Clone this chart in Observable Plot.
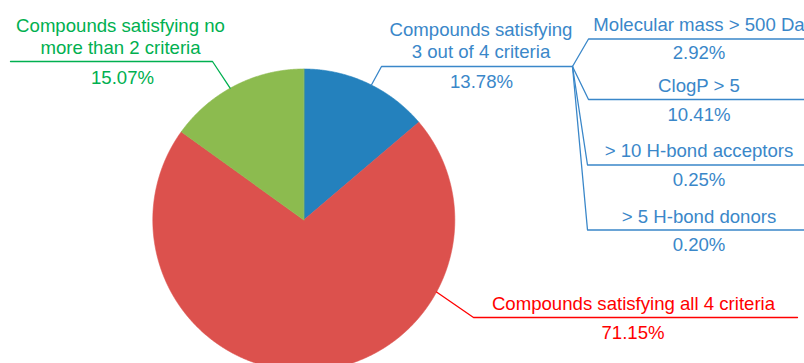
<!DOCTYPE html>
<html><head><meta charset="utf-8">
<script src="https://cdn.jsdelivr.net/npm/d3@7"></script>
<script src="https://cdn.jsdelivr.net/npm/@observablehq/plot@0.6"></script>
<style>html,body{margin:0;padding:0;background:#fff;overflow:hidden;}</style>
</head><body><div id="chart"></div>
<script>
// ---- data ----
const categories = ["3 of 4", "all 4", "no more than 2"];
const categoryLines = [
  ["Compounds satisfying", "3 out of 4 criteria"],
  ["Compounds satisfying all 4 criteria"],
  ["Compounds satisfying no", "more than 2 criteria"]
];
const shares = [13.78, 71.15, 15.07];
const subCategories = ["Molecular mass > 500 Da", "ClogP > 5", "> 10 H-bond acceptors", "> 5 H-bond donors"];
const subShares = [2.92, 10.41, 0.25, 0.20];
const sliceColors = ["#2481bd", "#dc514d", "#8cbb4f"];
const labelColors = ["#3a87c9", "#ff0000", "#00b050"];

// ---- layout ----
const W = 804, H = 363;
const cx = 303.3, cy = 219.5, R = 151;
const FS = 18.6, LH = 22;
const fmt = v => d3.format(".2f")(v) + "%";

// pie polygons
const pie = d3.pie().sort(null)(shares);
const slices = [];
pie.forEach((p, i) => {
  const n = Math.max(2, Math.ceil((p.endAngle - p.startAngle) / 0.005));
  slices.push({k: categories[i], x: cx, y: cy});
  for (let j = 0; j <= n; j++) {
    const a = p.startAngle + (p.endAngle - p.startAngle) * j / n;
    slices.push({k: categories[i], x: cx + R * Math.sin(a), y: cy - R * Math.cos(a)});
  }
});

// label layout: [anchor on circle (deg), elbow, end x], text block positions
const onCircle = deg => [cx + R * Math.sin(deg * Math.PI / 180), cy - R * Math.cos(deg * Math.PI / 180)];
const mainLayout = [
  {angle: 26.6, elbow: [381, 66], endX: 572, tx: 480.5, lineY: [35, 57], pctY: 87, pctX: 481},
  {angle: 118.5, elbow: [473, 317], endX: 797, tx: 633, lineY: [309], pctY: 338, pctX: 632.5},
  {angle: -29.2, elbow: [212, 61], endX: 10, tx: 120, lineY: [31, 53], pctY: 83, pctX: 122}
];
const subLayout = [
  {elbow: [588, 38.5], textY: 30.7, pctY: 58},
  {elbow: [588, 99], textY: 91.7, pctY: 120},
  {elbow: [587, 164.5], textY: 156.7, pctY: 185},
  {elbow: [587, 229.5], textY: 222, pctY: 250}
];
const subX = 698.5;

const leaders = [];
const texts = [];
categories.forEach((c, i) => {
  const L = mainLayout[i];
  const [ax, ay] = onCircle(L.angle);
  leaders.push({g: c, c: labelColors[i], x: ax, y: ay});
  leaders.push({g: c, c: labelColors[i], x: L.elbow[0], y: L.elbow[1]});
  leaders.push({g: c, c: labelColors[i], x: L.endX, y: L.elbow[1]});
  categoryLines[i].forEach((t, j) => texts.push({t, x: L.tx, y: L.lineY[j], c: labelColors[i]}));
  texts.push({t: fmt(shares[i]), x: L.pctX, y: L.pctY, c: labelColors[i]});
});
const hub = [mainLayout[0].endX, mainLayout[0].elbow[1]];
subCategories.forEach((s, i) => {
  const L = subLayout[i];
  leaders.push({g: s, c: labelColors[0], x: hub[0], y: hub[1]});
  leaders.push({g: s, c: labelColors[0], x: L.elbow[0], y: L.elbow[1]});
  leaders.push({g: s, c: labelColors[0], x: W, y: L.elbow[1]});
  texts.push({t: s, x: subX, y: L.textY, c: labelColors[0]});
  texts.push({t: fmt(subShares[i]), x: subX, y: L.pctY, c: labelColors[0]});
});

const chart = Plot.plot({
  width: W, height: H,
  margin: 0,
  style: {fontFamily: "'Liberation Sans', Arial, sans-serif", fontSize: FS + "px", background: "#fff"},
  x: {domain: [0, W], range: [0, W], axis: null},
  y: {domain: [0, H], range: [0, H], axis: null},
  color: {domain: categories, range: sliceColors},
  marks: [
    Plot.line(slices, {x: "x", y: "y", z: "k", fill: "k", stroke: "k", strokeWidth: 0.6, curve: "linear-closed"}),
    Plot.line(leaders, {x: "x", y: "y", z: "g", stroke: d => d.c, strokeWidth: 1.3}),
    Plot.text(texts, {x: "x", y: "y", text: "t", fill: d => d.c, fontSize: FS, lineAnchor: "bottom", textAnchor: "middle"})
  ]
});
document.getElementById("chart").appendChild(chart);
</script>
</body></html>
